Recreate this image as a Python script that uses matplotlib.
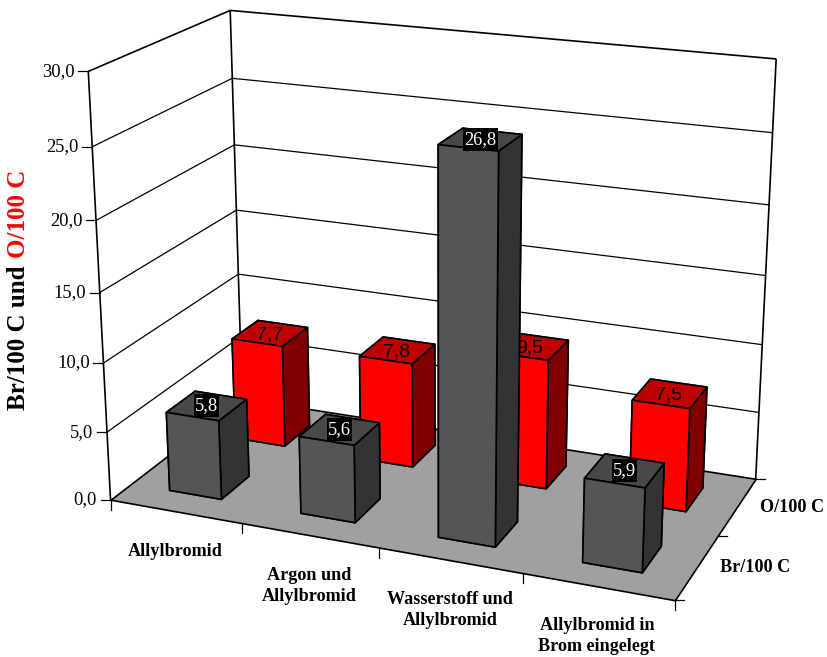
import numpy as np
import matplotlib
matplotlib.use("Agg")
import matplotlib.pyplot as plt
from matplotlib.axes import Axes
from matplotlib.path import Path
from mpl_toolkits.mplot3d.art3d import Poly3DCollection, Line3DCollection

plt.rcParams['font.family'] = ['Liberation Serif', 'DejaVu Serif']

# ---- data ----
categories = ["Allylbromid", "Argon und\nAllylbromid", "Wasserstoff und\nAllylbromid", "Allylbromid in\nBrom eingelegt"]
series_names = ["Br/100 C", "O/100 C"]
br_values = [5.8, 5.6, 26.8, 5.9]
o_values = [7.7, 7.8, 9.5, 7.5]
z_ticks = [0, 5, 10, 15, 20, 25, 30]
z_labels = ["0,0", "5,0", "10,0", "15,0", "20,0", "25,0", "30,0"]

W, H = 827, 657
fig = plt.figure(figsize=(W / 100, H / 100), dpi=100)

# ---- camera: projective map (x, y, z) -> pixel, fitted to the chart's box ----
box_world = np.array([
    [0, 0, 30], [0, 0, 25], [0, 0, 10], [0, 0, 5], [0, 0, 0],
    [0, 2, 30], [0, 2, 25], [0, 2, 20], [0, 2, 0],
    [4, 2, 30], [4, 2, 25], [4, 2, 0],
    [4, 0, 0], [1, 0, 0], [2, 0, 0], [3, 0, 0], [4, 1, 0]], float)
box_pixel = np.array([
    [88.5, 71], [92.5, 146.7], [104, 363.3], [106.7, 432.7], [110.7, 500],
    [230, 10], [232, 78.7], [234.3, 145], [242.5, 398],
    [776.3, 58.7], [772.3, 133.3], [755.7, 479],
    [675, 600], [241, 523], [379, 547.6], [523, 573], [718.3, 535.7]], float)

rows = []
for (X, Y, Z), (u, v) in zip(box_world, box_pixel):
    p = [X, Y, Z, 1]
    rows.append(p + [0, 0, 0, 0] + [-u * c for c in p])
    rows.append([0, 0, 0, 0] + p + [-v * c for c in p])
P = np.linalg.svd(np.array(rows))[2][-1].reshape(3, 4)
P = P / (P[2] @ np.array([0, 0, 0, 1.0]))
M = np.vstack([P[0], P[1], P[2] - np.array([0, 0, 0, 1.0]), P[2]])


def project(x, y, z):
    h = P @ np.array([x, y, z, 1.0])
    return h[0] / h[2], h[1] / h[2]


ax = fig.add_axes([0, 0, 1, 1], projection='3d', computed_zorder=False)
ax.get_proj = lambda: M
ax.apply_aspect = lambda position=None: None
ax.set_position([0, 0, 1, 1])
ax.set_autoscale_on(False)
ax.viewLim.intervalx = (0, W)
ax.viewLim.intervaly = (H, 0)
ax.set_xticks([])
ax.set_yticks([])
ax.set_zticks([])
ax.set_axis_off()

nx, ny, ztop = len(categories), len(series_names), z_ticks[-1]

# floor
floor = Poly3DCollection([[(0, 0, 0), (nx, 0, 0), (nx, ny, 0), (0, ny, 0)]],
                         facecolors='#a0a0a0', edgecolors='black', linewidths=1.2)
floor.set_zorder(1)
ax.add_collection3d(floor, autolim=False)

# walls: gridlines and frame
grid_segments = []
for z in z_ticks[1:-1]:
    grid_segments.append([(0, 0, z), (0, ny, z), (nx, ny, z)])
grid = Line3DCollection(grid_segments, colors='black', linewidths=0.9)
grid.set_zorder(1.1)
ax.add_collection3d(grid, autolim=False)
frame_segments = [[(0, 0, ztop), (0, ny, ztop), (nx, ny, ztop)],
                  [(0, 0, 0), (0, 0, ztop)],
                  [(0, ny, 0), (0, ny, ztop)],
                  [(nx, ny, 0), (nx, ny, ztop)]]
frame = Line3DCollection(frame_segments, colors='black', linewidths=1.2)
frame.set_zorder(1.2)
ax.add_collection3d(frame, autolim=False)

# bars
BAR = 0.40
DEP = 0.42
faces_grey = ['#404040', '#484848', '#555555', '#404040', '#333333', '#333333']
faces_red = ['#800000', '#bf0000', '#ff0000', '#800000', '#800000', '#800000']


def label_box(x0, y0, width, height, mutation_size):
    """Black box behind a label: 1 px beyond the text sideways, 23 px tall."""
    cy = y0 + height / 2
    l, r, b, t = x0 - 1, x0 + width + 1, cy - 11.5, cy + 11.5
    return Path([(l, b), (r, b), (r, t), (l, t), (l, b)], closed=True)


def add_bars(values, iy, faces, order, nudge, text_style):
    for i, v in enumerate(values):
        c = ax.bar3d(i + 0.5 - BAR / 2, iy + 0.5 - DEP / 2, 0, BAR, DEP, v,
                     color=faces, shade=False, edgecolor='black', linewidth=1.2, zsort='max')
        c.set_zorder(order + i * 0.01)
        u, v2 = project(i + 0.5, iy + 0.5, v)
        # plain 2D text on the same axes, so that nearer bars still cover it
        Axes.text(ax, u + nudge[0], v2 + nudge[1], f"{v:.1f}".replace('.', ','),
                  ha='center', va='center', zorder=order + i * 0.01 + 0.005, **text_style)


add_bars(o_values, 1, faces_red, 2, (-1, 1.5), dict(color='black', fontsize=14, family='Liberation Sans'))
add_bars(br_values, 0, faces_grey, 3, (0, 0),
         dict(color='white', fontsize=13.3,
              bbox=dict(facecolor='black', edgecolor='none', boxstyle=label_box)))

# ---- overlay in pixel space for ticks and labels ----
ov = fig.add_axes([0, 0, 1, 1], facecolor='none')
ov.set_xlim(0, W)
ov.set_ylim(H, 0)
ov.set_xticks([])
ov.set_yticks([])
ov.axis('off')

for z, lab in zip(z_ticks, z_labels):
    u, v = project(0, 0, z)
    ov.plot([u - 10, u], [v, v], color='black', lw=0.9)
    ov.text(u - 13.5, v, lab, ha='right', va='center', fontsize=13.3, color='black')

for i in range(nx + 1):
    u, v = project(i, 0, 0)
    ov.plot([u, u], [v, v + 10], color='black', lw=0.9)
for j in range(ny + 1):
    u, v = project(nx, j, 0)
    ov.plot([u, u + 9], [v, v], color='black', lw=0.9)

cat_xy = [(175, 551), (309, 586), (450, 610), (597, 636)]
for lab, (u, v) in zip(categories, cat_xy):
    ov.text(u, v, lab, ha='center', va='center', fontsize=13.1, fontweight='bold',
            linespacing=1.35, color='black')

for lab, (u, v) in zip(series_names, [(755, 567), (792.5, 507)]):
    ov.text(u, v, lab, ha='center', va='center', fontsize=13.1, fontweight='bold', color='black')

ov.text(19, 410, "Br/100 C und", rotation=90, ha='center', va='bottom', fontsize=18,
        fontweight='bold', color='black')
ov.text(19, 258, "O/100 C", rotation=90, ha='center', va='bottom', fontsize=18,
        fontweight='bold', color='red')

fig.savefig("out.png", dpi=100)
